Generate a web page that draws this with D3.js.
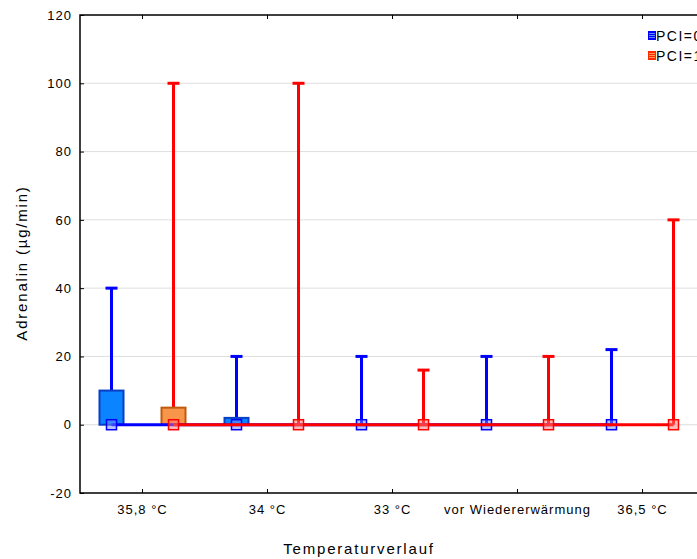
<!DOCTYPE html>
<html>
<head>
<meta charset="utf-8">
<script src="https://cdn.jsdelivr.net/npm/d3@7"></script>
<style>
  body { margin: 0; background: #fff; }
  svg { display: block; font-family: "Liberation Sans", Arial, sans-serif; }
</style>
</head>
<body>
<div id="chart"></div>
<script>
// data
const categories = ["35,8 °C", "34 °C", "33 °C", "vor Wiedererwärmung", "36,5 °C"];
const groups = ["PCI=0", "PCI=1"];
const median0 = [0, 0, 0, 0, 0];
const q1_0 = [0, 0, 0, 0, 0];
const q3_0 = [10, 2, 0, 0, 0];
const min0 = [0, 0, 0, 0, 0];
const max0 = [40, 20, 20, 20, 22];
const median1 = [0, 0, 0, 0, 0];
const q1_1 = [0, 0, 0, 0, 0];
const q3_1 = [5, 0, 0, 0, 0];
const min1 = [0, 0, 0, 0, 0];
const max1 = [100, 100, 16, 20, 60];
const yTicks = [-20, 0, 20, 40, 60, 80, 100, 120];

const width = 697, height = 559;
const margin = { left: 80, top: 15, right: -8, bottom: 66 };

const svg = d3.select("#chart").append("svg")
  .attr("width", width)
  .attr("height", height);

const x = d3.scaleBand()
  .domain(categories)
  .range([margin.left, width - margin.right]);

const y = d3.scaleLinear()
  .domain([-20, 120])
  .range([height - margin.bottom, margin.top]);

// grid
svg.append("g")
  .selectAll("line")
  .data(yTicks.filter(t => t > -20 && t < 120))
  .join("line")
  .attr("x1", margin.left)
  .attr("x2", width - margin.right)
  .attr("y1", d => y(d))
  .attr("y2", d => y(d))
  .attr("stroke", "#dedede")
  .attr("stroke-width", 1);

const series = [
  { name: groups[0], med: median0, q1: q1_0, q3: q3_0, lo: min0, hi: max0,
    line: "#0000ff", boxFill: "#0a84ff", boxStroke: "#0a3fc4", markFill: "rgba(120,140,255,0.5)" },
  { name: groups[1], med: median1, q1: q1_1, q3: q3_1, lo: min1, hi: max1,
    line: "#ff0000", boxFill: "#f7964a", boxStroke: "#c05a0c", markFill: "rgba(255,120,120,0.5)" }
];

// offset of each series inside its category
const cx = (s, i) => x(categories[i]) + x.bandwidth() / 2 + (s === 0 ? -31 : 31);

const boxW = 24, capW = 12, markS = 10;

series.forEach((s, si) => {
  const g = svg.append("g");
  categories.forEach((c, i) => {
    const px = cx(si, i);
    // whisker
    g.append("line")
      .attr("x1", px).attr("x2", px)
      .attr("y1", y(s.lo[i])).attr("y2", y(s.hi[i]))
      .attr("stroke", s.line).attr("stroke-width", 3);
    g.append("line")
      .attr("x1", px - capW / 2).attr("x2", px + capW / 2)
      .attr("y1", y(s.hi[i])).attr("y2", y(s.hi[i]))
      .attr("stroke", s.line).attr("stroke-width", 3);
    // box
    if (s.q3[i] > s.q1[i]) {
      g.append("rect")
        .attr("x", px - boxW / 2)
        .attr("y", y(s.q3[i]))
        .attr("width", boxW)
        .attr("height", y(s.q1[i]) - y(s.q3[i]))
        .attr("fill", s.boxFill)
        .attr("stroke", s.boxStroke)
        .attr("stroke-width", 2);
    }
  });
});

// median lines then markers
series.forEach((s, si) => {
  svg.append("path")
    .datum(s.med)
    .attr("fill", "none")
    .attr("stroke", s.line)
    .attr("stroke-width", 3)
    .attr("d", d3.line().x((d, i) => cx(si, i)).y(d => y(d)));
  svg.append("g")
    .selectAll("rect")
    .data(s.med)
    .join("rect")
    .attr("x", (d, i) => cx(si, i) - markS / 2)
    .attr("y", d => y(d) - markS / 2)
    .attr("width", markS)
    .attr("height", markS)
    .attr("fill", s.markFill)
    .attr("stroke", s.line)
    .attr("stroke-width", 1.5);
});

// frame
svg.append("rect")
  .attr("x", margin.left)
  .attr("y", margin.top)
  .attr("width", width - margin.right - margin.left)
  .attr("height", height - margin.bottom - margin.top)
  .attr("fill", "none")
  .attr("stroke", "#000")
  .attr("stroke-width", 1.5);

// y axis
const yAxis = svg.append("g")
  .attr("transform", `translate(${margin.left},0)`)
  .call(d3.axisLeft(y).tickValues(yTicks).tickSize(-4).tickPadding(8).tickFormat(d => String(d)));
yAxis.select(".domain").remove();
yAxis.selectAll("text").attr("font-size", 13).attr("fill", "#000")
  .attr("letter-spacing", 1)
  .attr("font-family", "Liberation Sans, Arial, sans-serif");
yAxis.selectAll("line").attr("stroke", "#000");

// x axis (bottom and top ticks)
const xAxis = svg.append("g")
  .attr("transform", `translate(0,${height - margin.bottom})`)
  .call(d3.axisBottom(x).tickSize(-4).tickPadding(12));
xAxis.select(".domain").remove();
xAxis.selectAll("text").attr("font-size", 13).attr("fill", "#000")
  .attr("letter-spacing", 1)
  .attr("font-family", "Liberation Sans, Arial, sans-serif");
xAxis.selectAll("line").attr("stroke", "#000");

const xTop = svg.append("g")
  .attr("transform", `translate(0,${margin.top})`)
  .call(d3.axisTop(x).tickSize(-4).tickFormat(""));
xTop.select(".domain").remove();
xTop.selectAll("line").attr("stroke", "#000");

// titles
svg.append("text")
  .attr("x", 359)
  .attr("y", 554)
  .attr("text-anchor", "middle")
  .attr("font-size", 15)
  .attr("letter-spacing", 1.8)
  .text("Temperaturverlauf");

svg.append("text")
  .attr("transform", "translate(27,263) rotate(-90)")
  .attr("text-anchor", "middle")
  .attr("font-size", 15)
  .attr("letter-spacing", 1.8)
  .text("Adrenalin (µg/min)");

// legend
const legend = svg.append("g").attr("transform", "translate(648,31)");
series.forEach((s, si) => {
  const lg = legend.append("g").attr("transform", `translate(0,${si * 20})`);
  lg.append("rect")
    .attr("width", 8).attr("height", 9)
    .attr("fill", si === 0 ? "#0000ff" : "#ff2a00");
  [2.5, 4.5, 6.5].forEach(yy => {
    lg.append("line")
      .attr("x1", 1).attr("x2", 7)
      .attr("y1", yy).attr("y2", yy)
      .attr("stroke", si === 0 ? "#5a8cff" : "#ff9a50")
      .attr("stroke-width", 1);
  });
  lg.append("text")
    .attr("x", 8)
    .attr("y", 9.5)
    .attr("font-size", 14)
    .attr("letter-spacing", 1.5)
    .text(s.name);
});
</script>
</body>
</html>
